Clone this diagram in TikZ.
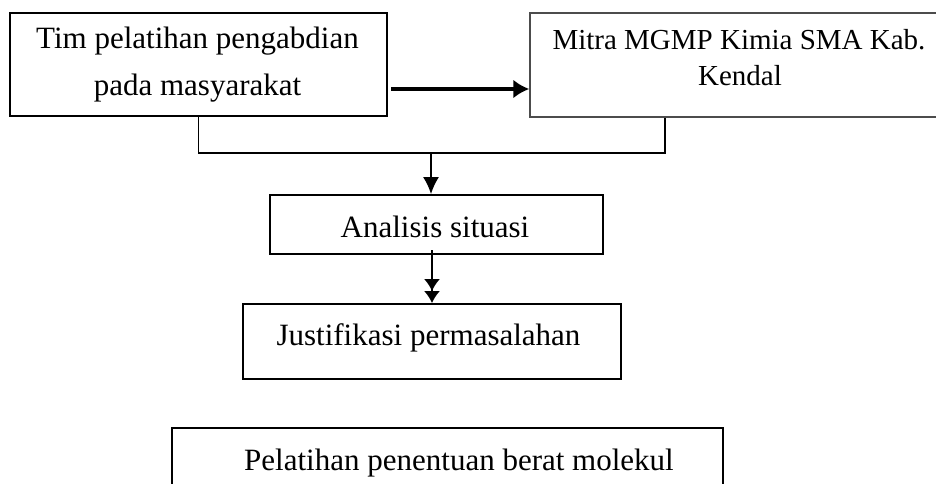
\documentclass[tikz,border=0pt]{standalone}
\usepackage{fontspec}
\setmainfont{Liberation Serif}
\usetikzlibrary{arrows.meta}
\begin{document}
\begin{tikzpicture}[x=1pt,y=-1pt,
  boxnode/.style={draw=black, line width=1.8pt, inner sep=0pt, rectangle},
  greybox/.style={draw=black!70, line width=1.5pt, inner sep=0pt, rectangle},
  txt/.style={anchor=base, inner sep=0pt, font=\fontsize{31}{37}\selectfont},
  txts/.style={anchor=base, inner sep=0pt, font=\fontsize{29}{35}\selectfont},
  conn/.style={line width=1.8pt},
  thickarr/.style={line width=3.2pt, -{Latex[length=16pt,width=19pt]}},
  downarr/.style={line width=1.8pt, -{Latex[length=17pt,width=16pt]}},
  dblarr/.style={line width=1.8pt, -{Latex[length=12pt,width=16pt]Latex[length=12pt,width=16pt]}}
]
\useasboundingbox (0,0) rectangle (936,484);
\fill[white] (0,0) rectangle (936,484);
\clip (0,0) rectangle (936,484);

% boxes
\node[boxnode, minimum width=377pt, minimum height=103pt] (tim) at (198.5,64.5) {};
\node[greybox, minimum width=420pt, minimum height=104pt] (mitra) at (740,65) {};
\node[boxnode, minimum width=333pt, minimum height=59pt] (an) at (436.5,224.5) {};
\node[boxnode, minimum width=378pt, minimum height=75pt] (ju) at (432,341.5) {};
\node[boxnode, minimum width=551pt, minimum height=80pt] (pel) at (447.5,468) {};

% texts
\node[txt] (tim1) at (197.5,49) {Tim pelatihan pengabdian};
\node[txt] (tim2) at (197.5,95.5) {pada masyarakat};
\node[txts] (mit1) at (739,50) {Mitra MGMP Kimia SMA Kab.};
\node[txts] (mit2) at (740,86) {Kendal};
\node[txt] (ant) at (435,237) {Analisis situasi};
\node[txt] (jut) at (428.5,345) {Justifikasi permasalahan};
\node[txt] (pelt) at (459,470) {Pelatihan penentuan berat molekul};

% connectors
\coordinate (as) at (391,89);
\draw[thickarr] (as) -- (as -| mitra.west);
\coordinate (jR) at (665,153);
\draw[conn] (tim.south) |- (jR) -- (jR |- mitra.south);
\coordinate (jm) at (431,153);
\draw[downarr] (jm) -- (jm |- an.north);
\coordinate (js) at (432,250);
\draw[dblarr] (js) -- (js |- ju.north);
\end{tikzpicture}
\end{document}
